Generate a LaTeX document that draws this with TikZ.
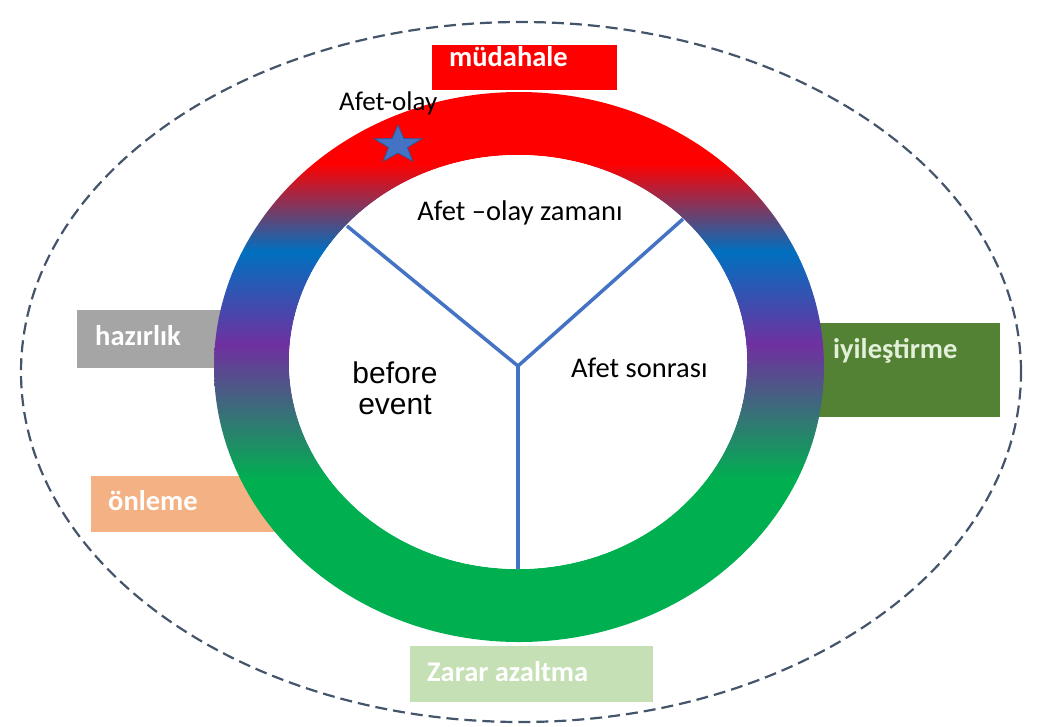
\documentclass[tikz,border=0pt]{standalone}
\usepackage{fontspec}
\setmainfont{Carlito}
\newfontfamily\arialfont{Liberation Sans}
\usetikzlibrary{shapes.geometric}

\definecolor{ringred}{HTML}{FF0000}
\definecolor{ringblue}{HTML}{0070C0}
\definecolor{ringpurple}{HTML}{7030A0}
\definecolor{ringgreen}{HTML}{00B050}
\definecolor{spokeblue}{HTML}{4472C4}
\definecolor{stardark}{HTML}{2F5597}
\definecolor{dashgrey}{HTML}{44546A}
\definecolor{boxred}{HTML}{FF0000}
\definecolor{boxgrey}{HTML}{A5A5A5}
\definecolor{boxpeach}{HTML}{F4B183}
\definecolor{boxdkgreen}{HTML}{548235}
\definecolor{boxltgreen}{HTML}{C5E0B4}
\definecolor{paletext}{HTML}{E2F0D9}

\pgfdeclareverticalshading{ringshade}{100bp}{color(0bp)=(ringgreen); color(39.7bp)=(ringgreen); color(52bp)=(ringpurple); color(60.5bp)=(ringblue); color(68.5bp)=(ringred); color(100bp)=(ringred)}

\tikzset{
  phasebox/.style={rectangle, inner sep=0pt, anchor=north west},
  boxtext/.style={anchor=base west, inner sep=0pt, text=white, font=\fontsize{28.5}{33}\selectfont\bfseries},
  plaintext/.style={inner sep=0pt, text=black, font=\fontsize{28.5}{33}\selectfont},
  spoke/.style={spokeblue, line width=3.5pt}
}

\begin{document}
\begin{tikzpicture}[x=1pt, y=-1pt]
        \useasboundingbox (0,0) rectangle (1043,726);

        % Outer dashed boundary
        \draw[dashgrey, line width=2.2pt, dash pattern=on 12pt off 6pt] (521,372) ellipse [x radius=500pt, y radius=350pt];

        % Phase boxes (behind the ring)
        \node[phasebox, fill=boxred, minimum width=185pt, minimum height=45pt] (mudahalebox) at (432,45) {};
        \node[phasebox, fill=boxgrey, minimum width=150pt, minimum height=58pt] (hazirlikbox) at (77,310) {};
        \node[phasebox, fill=boxpeach, minimum width=190pt, minimum height=56pt] (onlemebox) at (91,476) {};
        \node[phasebox, fill=boxdkgreen, minimum width=190pt, minimum height=94pt] (iyilesbox) at (810,323) {};
        \node[phasebox, fill=boxltgreen, minimum width=243pt, minimum height=56pt] (zararbox) at (410,646) {};

        % Gradient ring
        \shade[shading=ringshade, even odd rule] (519,367) ellipse [x radius=305pt, y radius=275pt]
              (518,362) ellipse [x radius=229pt, y radius=207pt];
        \fill[white] (518,362) ellipse [x radius=229pt, y radius=207pt];

        % Spokes
        \coordinate (hub) at (518,366);
        \coordinate (spokeL) at (347,226);
        \coordinate (spokeR) at (683,219);
        \coordinate (spokeB) at (518,569);
        \draw[spoke] (hub) -- (spokeL);
        \draw[spoke] (hub) -- (spokeR);
        \draw[spoke] (hub) -- (spokeB);

        % Star on the ring
        \node[star, star points=5, star point ratio=2.5, minimum size=40pt, inner sep=0pt,
              fill=spokeblue, draw=stardark, line width=0.8pt, xscale=1.25, transform shape] (olaystar) at (398,145) {};

        % Box labels
        \node[boxtext] (mudahale) at (449,66) {müdahale};
        \node[boxtext] (hazirlik) at (95,345) {hazırlık};
        \node[boxtext] (onleme) at (108,510) {önleme};
        \node[boxtext, text=paletext] (iyiles) at (833,358) {iyileştirme};
        \node[boxtext] (zarar) at (427,681) {Zarar azaltma};

        % Ring labels
        \node[plaintext, anchor=base west, font=\fontsize{27}{32}\selectfont] (afetolay) at (339,110) {Afet-olay};
        \node[plaintext, anchor=base] (zamani) at (520,220) {Afet –olay zamanı};
        \node[plaintext, anchor=base west] (sonrasi) at (571,377) {Afet sonrası};
        \node[plaintext, font=\arialfont\fontsize{30}{31}\selectfont, align=center] (before) at (395,388) {before\\event};
\end{tikzpicture}
\end{document}
